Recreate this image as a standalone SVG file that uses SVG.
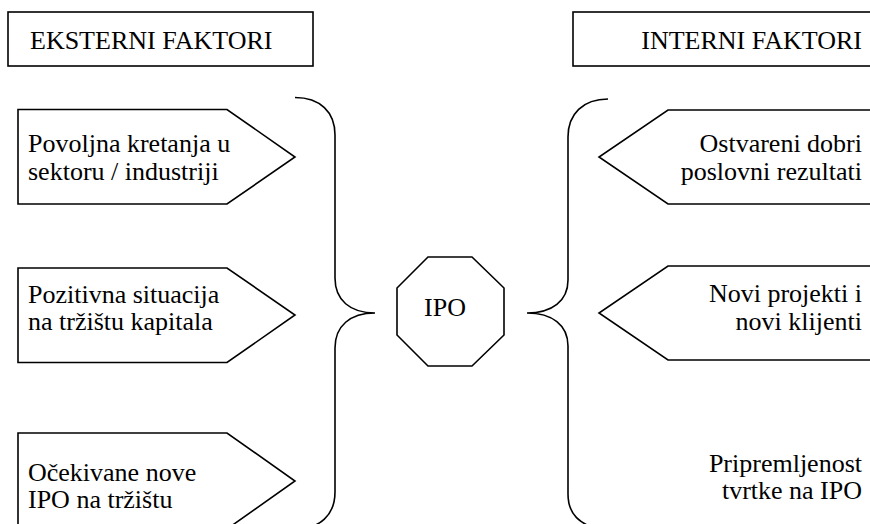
<svg xmlns="http://www.w3.org/2000/svg" width="870" height="524" viewBox="0 0 870 524" font-family="'Liberation Serif', 'Times New Roman', Times, 'DejaVu Serif', serif" font-size="26">
<style>
.s{fill:#fff;stroke:#000;stroke-width:1.6}
.b{fill:none;stroke:#000;stroke-width:1.6}
.t{font-family:'Liberation Serif','Times New Roman',Times,'DejaVu Serif',serif;font-size:26px;fill:#000}
.r{text-anchor:end}
</style>
<rect width="870" height="524" fill="#fff"/>
<g id="hdr-ext"><rect class="s" x="8" y="12" width="305" height="54"/><text class="t" x="30" y="49">EKSTERNI FAKTORI</text></g>
<g id="hdr-int"><rect class="s" x="573" y="12" width="310" height="54"/><text class="t r" x="862" y="49">INTERNI FAKTORI</text></g>
<g id="ext1"><polygon class="s" points="18,109.5 227,109.5 295,157 227,204 18,204"/><text class="t"><tspan x="28" y="152">Povoljna kretanja u</tspan><tspan x="28" y="180">sektoru / industriji</tspan></text></g>
<g id="ext2"><polygon class="s" points="18,268 227,268 295,315 227,362.5 18,362.5"/><text class="t"><tspan x="28" y="303">Pozitivna situacija</tspan><tspan x="28" y="330">na tržištu kapitala</tspan></text></g>
<g id="ext3"><polygon class="s" points="18,433 227,433 295,481 227,529 18,529"/><text class="t"><tspan x="28" y="481">Očekivane nove</tspan><tspan x="28" y="508">IPO na tržištu</tspan></text></g>
<g id="int1"><polygon class="s" points="880,110 668,110 599,157 668,204 880,204"/><text class="t r"><tspan x="862" y="152">Ostvareni dobri</tspan><tspan x="862" y="180">poslovni rezultati</tspan></text></g>
<g id="int2"><polygon class="s" points="880,266 668,266 599,313 668,360 880,360"/><text class="t r"><tspan x="862" y="302">Novi projekti i</tspan><tspan x="862" y="330">novi klijenti</tspan></text></g>
<g id="int3"><text class="t r"><tspan x="862" y="472">Pripremljenost</tspan><tspan x="862" y="499">tvrtke na IPO</tspan></text></g>
<g id="ipo"><polygon class="s" points="428,257 472,257 504,288 504,335 472,366 428,366 397,335 397,288"/><text class="t" x="445" y="316" text-anchor="middle">IPO</text></g>
<g id="connectors">
<path class="b" d="M295,97.5 C320,97.5 335,112 335,135 L335,278 C335,300 350,313 375,313 C350,313 335,326 335,348 L335,492 C335,515 320,529 295,529"/>
<path class="b" d="M608,99 C583,99 568,114 568,137 L568,280 C568,301 552,313 527,313 C552,313 568,325 568,346 L568,494 C568,515 580,524 600,530"/>
</g>
</svg>
